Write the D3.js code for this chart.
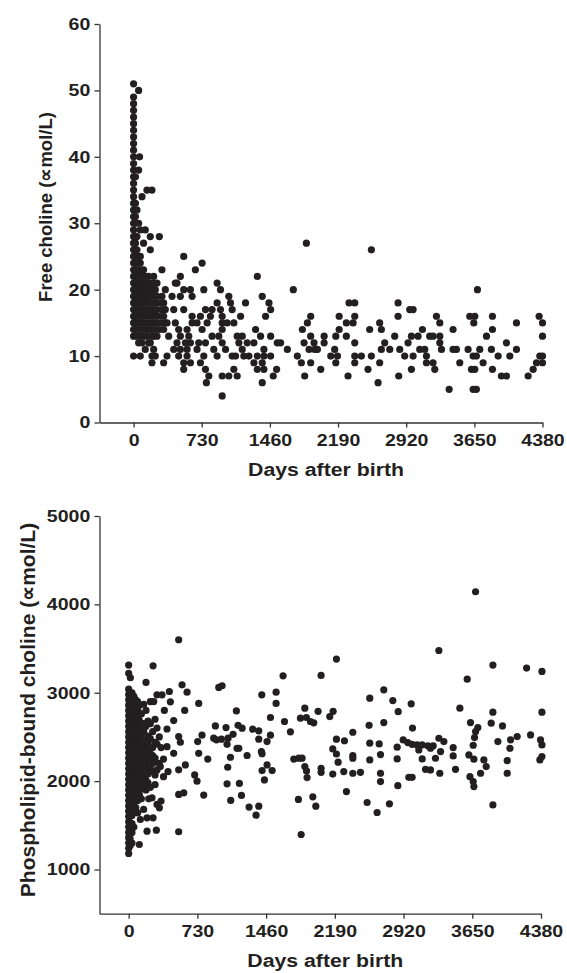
<!DOCTYPE html>
<html>
<head>
<meta charset="utf-8">
<script src="https://cdn.jsdelivr.net/npm/d3@7"></script>
<style>
  body { margin: 0; background: #fff; }
  svg text { font-family: "Liberation Sans", Arial, sans-serif; font-weight: bold; fill: #231f20; }
</style>
</head>
<body>
<div id="chart"></div>
<script>
// Chart size
const width = 567;
const height = 973;
const dotColor = "#231f20";
const stretch = "scale(1.15,1)"; // the original lettering is a little wide

// Tick labels
const dayTicks = [0, 730, 1460, 2190, 2920, 3650, 4380];
const freeTicks = [0, 10, 20, 30, 40, 50, 60];
const pcTicks = [1000, 2000, 3000, 4000, 5000];

// Free choline: values stacked at day 0
const freeDayZero = [10, 13, 14, 15, 16, 17, 18, 19, 20, 21, 22, 23, 24, 25, 26, 27, 28, 29, 30,
  31, 32, 33, 34, 35, 36, 37, 38, 39, 40, 41, 42, 43, 44, 45, 46, 47, 48, 49, 51];

// Free choline: first year [day, value]
const freeEarly = [
  [20,14],[20,15],[20,16],[20,17],[20,18],[20,19],[20,20],[20,21],[20,22],[20,23],[20,24],[20,25],
  [20,26],[20,27],[20,28],[20,30],[20,31],[20,33],[20,37],
  [36,13],[36,15],[36,17],[36,19],[36,20],[36,22],[36,24],[36,26],[36,28],[36,32],
  [54,12],[54,14],[54,16],[54,18],[54,20],[54,21],[54,23],[54,25],[54,30],[54,38],[54,50],[64,40],
  [72,10],[72,13],[72,15],[72,16],[72,17],[72,18],[72,19],[72,20],[72,21],[72,22],[72,23],[72,24],[72,25],[72,29],
  [90,12],[90,14],[90,16],[90,18],[90,19],[90,20],[90,21],[90,22],[90,34],
  [107,13],[107,15],[107,17],[107,19],[107,20],[107,21],[107,23],[107,27],
  [125,11],[125,14],[125,16],[125,18],[125,19],[125,20],[125,22],[125,29],
  [143,13],[143,15],[143,17],[143,18],[143,19],[143,20],[143,21],[143,35],
  [161,12],[161,14],[161,16],[161,18],[161,20],[161,22],
  [179,12],[179,15],[179,17],[179,19],[179,21],[179,26],[179,28],
  [197,9],[197,10],[197,13],[197,14],[197,16],[197,18],[197,20],[197,35],
  [215,11],[215,13],[215,15],[215,17],[215,19],[215,21],[215,22],
  [233,10],[233,14],[233,16],[233,18],[233,20],
  [251,13],[251,15],[251,17],[251,19],[251,21],
  [276,14],[276,16],[276,18],[276,28],
  [304,15],[304,17],[304,19],[304,23],
  [322,9],[322,14],[322,16],[322,18],
  [340,15],[340,17],[340,20]
];

// Free choline: later ages [day, value]
const freeLate = [
  [537,25],[734,24],[662,23],[1325,22],[501,22],[447,21],[465,21],[895,21],
  [537,20],[609,20],[752,20],[931,20],[1711,20],
  [412,19],[501,19],[627,19],[1020,19],[1378,19],
  [895,18],[1038,18],[1199,18],[1450,18],
  [430,17],[537,17],[770,17],[841,17],[931,17],[1056,17],[1468,17],
  [627,16],[716,16],[823,16],[949,16],[1146,16],[1414,16],[1897,16],[2202,16],
  [358,15],[447,15],[627,15],[680,15],[788,15],[949,15],[1002,15],[1074,15],[1862,15],
  [483,14],[573,14],[734,14],[949,14],[1307,14],[1808,14],[2202,14],
  [376,13],[501,13],[591,13],[841,13],[913,13],[1110,13],[1164,13],[1360,13],[1468,13],[1897,13],[2041,13],[2166,13],
  [465,12],[555,12],[609,12],[698,12],[770,12],[949,12],[1128,12],[1217,12],[1289,12],[1539,12],[1575,12],[1826,12],[1933,12],[2041,12],
  [430,11],[501,11],[573,11],[680,11],[859,11],[985,11],[1164,11],[1396,11],[1647,11],[1880,11],[1940,11],[1969,11],[2154,11],
  [358,10],[483,10],[573,10],[752,10],[895,10],[1056,10],[1092,10],[1181,10],[1235,10],[1325,10],[1396,10],[1468,10],[1754,10],[2112,10],[2184,10],
  [537,9],[609,9],[716,9],[1289,9],[1378,9],[1797,9],[1897,9],[2166,9],
  [537,8],[770,8],[1074,8],[1325,8],[1396,8],[1532,8],[2005,8],
  [806,7],[949,7],[1020,7],[1110,7],[1496,7],[1833,7],
  [780,6],[1378,6],[949,4],
  [1851,27],[2547,26],[3683,20],
  [2308,18],[2369,18],[2833,18],[2958,17],[2994,17],
  [2369,16],[2833,16],[3244,16],[3601,16],[3655,16],[3844,16],[4344,16],
  [2279,15],[2351,15],[2636,15],[3280,15],[3644,15],[4101,15],[4380,15],
  [2529,14],[2654,14],[3094,14],[3422,14],[3844,14],
  [2279,13],[2797,13],[2976,13],[3047,13],[3172,13],[3208,13],[3280,13],[3780,13],[4380,13],
  [2369,12],[2690,12],[2940,12],[3280,12],[3994,12],
  [2654,11],[2744,11],[2851,11],[3065,11],[3119,11],[3298,11],[3422,11],[3458,11],[3583,11],[3708,11],[3833,11],[4101,11],
  [2369,10],[2440,10],[2547,10],[2904,10],[2994,10],[3137,10],[3637,10],[3672,10],[3905,10],[4030,10],[4351,10],[4380,10],
  [2369,9],[2636,9],[3137,9],[3208,9],[3494,9],[3744,9],[4316,9],[4380,9],
  [2511,8],[2976,8],[3226,8],[3619,8],[3655,8],[3844,8],[4280,8],
  [2297,7],[2840,7],[3940,7],[3994,7],[4226,7],
  [2619,6],[3380,5],[3637,5],[3672,5]
];

// Phospholipid-bound choline: first year [day, value]
const pcEarly = [
  [0,1181],[0,1240],[0,1300],[0,1360],[0,1420],[0,1480],[0,1540],[0,1600],[0,1660],[0,1720],[0,1780],
  [0,1840],[0,1900],[0,1960],[0,2020],[0,2080],[0,2140],[0,2200],[0,2260],[0,2320],[0,2380],[0,2440],
  [0,2500],[0,2560],[0,2620],[0,2680],[0,2740],[0,2800],[0,2860],[0,2920],[0,2980],[0,3040],[0,3220],[0,3313],
  [15,1270],[15,1350],[15,1450],[15,1530],[15,1620],[15,1700],[15,1790],[15,1880],[15,1950],[15,2050],
  [15,2110],[15,2170],[15,2240],[15,2300],[15,2370],[15,2420],[15,2490],[15,2550],[15,2610],[15,2680],
  [15,2750],[15,2820],[15,2890],[15,2960],[18,3170],
  [35,1300],[35,1420],[35,1520],[35,1610],[35,1720],[35,1820],[35,1910],[35,2000],[35,2090],[35,2180],
  [35,2260],[35,2350],[35,2440],[35,2510],[35,2590],[35,2670],[35,2740],[35,2830],[35,2920],[35,3000],
  [55,1480],[55,1650],[55,1760],[55,1870],[55,1950],[55,2030],[55,2120],[55,2200],[55,2280],[55,2360],
  [55,2450],[55,2530],[55,2620],[55,2700],[55,2790],[55,2880],[55,2960],
  [75,1700],[75,1820],[75,1900],[75,1990],[75,2070],[75,2160],[75,2240],[75,2320],[75,2410],[75,2490],
  [75,2570],[75,2660],[75,2740],[75,2920],
  [95,1640],[95,1780],[95,1880],[95,1960],[95,2050],[95,2140],[95,2220],[95,2300],[95,2390],
  [95,2470],[95,2550],[95,2640],[95,2810],[95,2900],
  [113,1283],[113,1850],[113,1940],[113,2020],[113,2110],[113,2190],[113,2270],[113,2360],
  [113,2440],[113,2520],[113,2610],[113,2690],[113,2860],
  [124,1566],[135,1800],[135,1910],[135,2000],[135,2080],[135,2170],[135,2250],[135,2340],
  [135,2500],[135,2590],[135,2760],
  [159,1680],[160,1960],[160,2050],[160,2140],[160,2230],[160,2310],[160,2390],
  [160,2560],[160,2650],[160,2870],
  [184,1900],[184,2010],[184,2100],[184,2190],[184,2280],[184,2370],[184,2450],[184,2620],
  [184,2800],[184,3117],
  [195,1585],[195,1434],[213,1800],[205,1980],[205,2080],[205,2260],[205,2340],
  [205,2430],[205,2510],[205,2680],
  [230,1930],[230,2140],[230,2230],[230,2310],[230,2480],[230,2650],[230,2900],
  [248,1812],[259,1585],[255,2110],[255,2200],[255,2290],[255,2380],[255,2560],
  [266,2900],[259,3305],
  [280,1960],[280,2070],[280,2260],[280,2440],[280,2700],
  [294,1445],[301,1736],[301,2127],[301,2420],[301,2600],[301,2977],
  [326,1698],[325,2200],[325,2500],[336,2165],
  [344,1774],[344,2380],[354,2977],
  [370,2050],[370,2250],[379,2800],[407,2390],[407,2590],[418,2108]
];

// Phospholipid-bound choline: later ages [day, value]
const pcLate = [
  [531,3600],[2207,3381],[1640,3192],[2044,3196],[567,3090],[620,3007],[957,3060],[992,3079],
  [1414,2977],[1566,3007],[1566,2879],[432,3014],[443,2897],[744,2879],[595,2800],[1144,2794],
  [478,2685],[1506,2720],[1655,2675],[1871,2825],[2012,2790],[2172,2790],[2136,2730],[1825,2712],
  [1888,2720],[1931,2675],[1966,2660],[921,2625],[1034,2606],[1162,2632],[1205,2599],[1318,2588],
  [1382,2569],[779,2520],[1506,2520],[1718,2558],[531,2505],[903,2486],[932,2467],[985,2475],
  [1056,2486],[1109,2530],[1382,2475],[1470,2448],[733,2448],[549,2440],[2207,2475],[478,2315],
  [744,2315],[1151,2372],[1170,2372],[1410,2335],[1417,2310],[2168,2365],[2207,2307],[840,2250],
  [1081,2270],[1258,2290],[1754,2250],[1807,2260],[1842,2260],[1871,2165],[1889,2115],[1895,2040],
  [2225,2214],[531,2128],[602,2183],[1052,2157],[1470,2183],[1524,2120],[1417,2120],[2044,2146],
  [2044,2100],[2168,2080],[701,2070],[1442,2014],[1045,2416],
  [726,2000],[797,1842],[531,1850],[585,1868],[531,1427],[1045,1970],[1176,1974],[1084,1782],
  [1198,1838],[1279,1706],[1382,1717],[1353,1615],[1803,1793],[1956,1823],[1988,1717],[1832,1396],
  [3685,4143],[3295,3478],[3869,3313],[4227,3279],[4390,3241],[3596,3154],[2710,3033],[2561,2939],
  [2806,2912],[2863,2786],[3001,2875],[3518,2826],[3869,2780],[4390,2780],[2381,2553],[2554,2632],
  [2710,2663],[3015,2600],[3631,2663],[3709,2607],[3851,2656],[3971,2625],[2292,2457],[2561,2429],
  [2661,2421],[2852,2384],[2916,2466],[2965,2436],[3011,2417],[3064,2410],[3118,2410],[3178,2399],
  [3235,2399],[3295,2485],[3348,2448],[3447,2380],[3685,2561],[3674,2493],[3660,2406],[3922,2448],
  [4057,2467],[4127,2504],[4269,2523],[4375,2467],[4390,2410],[2381,2290],[2381,2260],[2561,2240],
  [2675,2300],[2852,2251],[3082,2353],[3118,2251],[3206,2372],[3259,2259],[3313,2334],[3447,2285],
  [3472,2134],[3614,2297],[3667,2248],[3773,2240],[3798,2165],[4050,2372],[4021,2232],[4368,2240],
  [4390,2278],[2285,2108],[2381,2089],[2462,2100],[2675,2089],[2675,1995],[2976,2043],[3011,2043],
  [3153,2134],[3206,2127],[3305,2089],[3625,2051],[3660,1995],[3667,1938],[3738,2089],[4021,2089],
  [2859,1949],[2313,1882],[2533,1758],[2639,1645],[2770,1743],[3869,1731]
];

const svg = d3.select("#chart")
  .append("svg")
  .attr("width", width)
  .attr("height", height);

// Draws one scatter panel: axes, titles and dots
function drawPanel(p) {
  const x = d3.scaleLinear().domain(p.xDomain).range([p.left, p.right]);
  const y = d3.scaleLinear().domain(p.yDomain).range([p.bottom, p.top]);

  const g = svg.append("g");

  g.append("g")
    .attr("transform", `translate(${p.left},0)`)
    .call(d3.axisLeft(y).tickValues(p.yTicks).tickFormat(d3.format("d"))
      .tickSize(5).tickSizeOuter(0).tickPadding(3))
    .call(a => a.selectAll("text").attr("font-size", "17px").attr("transform", stretch));

  g.append("g")
    .attr("transform", `translate(0,${p.bottom})`)
    .call(d3.axisBottom(x).tickValues(dayTicks).tickFormat(d3.format("d"))
      .tickSize(5).tickSizeOuter(0).tickPadding(6))
    .call(a => a.selectAll("text").attr("font-size", "17px").attr("transform", stretch));

  g.selectAll(".domain, .tick line")
    .attr("stroke", "#333")
    .attr("stroke-width", 1.3);

  g.append("text")
    .attr("transform", `translate(${(p.left + p.right) / 2 + 5},${p.bottom + 53}) ${stretch}`)
    .attr("text-anchor", "middle")
    .attr("font-size", "18.5px")
    .text("Days after birth");

  g.append("text")
    .attr("transform", `translate(${p.titleX},${p.titleY}) rotate(-90)`)
    .attr("text-anchor", "middle")
    .attr("font-size", p.titleSize + "px")
    .text(p.title);

  g.selectAll(".dot")
    .data(p.points)
    .enter()
    .append("circle")
    .attr("class", "dot")
    .attr("cx", d => x(d[0]))
    .attr("cy", d => y(d[1]))
    .attr("r", 3.6)
    .attr("fill", dotColor);
}

drawPanel({
  xDomain: [-365, 4380], yDomain: [0, 60],
  left: 99.5, right: 542.5, top: 24, bottom: 422.5,
  yTicks: freeTicks,
  title: "Free choline (\u221dmol/L)", titleX: 52, titleY: 207, titleSize: 18.5,
  points: freeDayZero.map(v => [0, v]).concat(freeEarly, freeLate)
});

drawPanel({
  xDomain: [-310, 4380], yDomain: [500, 5000],
  left: 99.5, right: 541, top: 516, bottom: 913.7,
  yTicks: pcTicks,
  title: "Phospholipid-bound choline (\u221dmol/L)", titleX: 35, titleY: 710, titleSize: 21,
  points: pcEarly.concat(pcLate)
});
</script>
</body>
</html>
